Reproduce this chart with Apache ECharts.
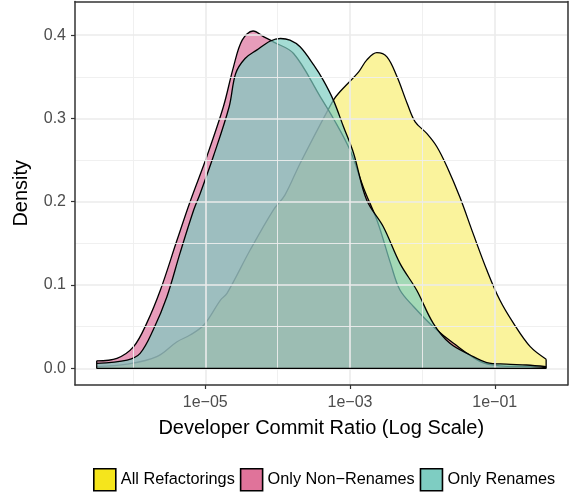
<!DOCTYPE html>
<html>
<head>
<meta charset="utf-8">
<script src="https://cdn.jsdelivr.net/npm/echarts@6/dist/echarts.min.js"></script>
<style>
html,body{margin:0;padding:0;background:#fff;}
#chart{width:571px;height:492px;}
</style>
</head>
<body>
<div id="chart"></div>
<script>
// log10(Developer Commit Ratio) and density values
const allX = [-6.50,-6.08,-5.67,-5.39,-5.21,-5.02,-4.79,-4.70,-4.38,-4.06,-3.90,-3.69,-3.23,-3.14,-2.88,-2.77,-2.63,-2.49,-2.35,-2.21,-2.10,-1.94,-1.80,-1.66,-1.48,-1.30,-1.11,-0.93,-0.74,-0.51,-0.29];
const allY = [0.002,0.005,0.014,0.032,0.040,0.052,0.082,0.090,0.142,0.190,0.208,0.246,0.322,0.332,0.356,0.370,0.379,0.374,0.350,0.318,0.296,0.282,0.266,0.242,0.205,0.162,0.118,0.082,0.054,0.026,0.011];

const nonRenX = [-6.50,-6.22,-5.99,-5.81,-5.62,-5.39,-5.21,-4.98,-4.75,-4.61,-4.49,-4.34,-4.19,-4.06,-3.78,-3.41,-3.23,-3.00,-2.81,-2.62,-2.44,-2.31,-2.12,-1.85,-1.57,-1.20,-0.93,-0.51,-0.29];
const nonRenY = [0.009,0.012,0.026,0.054,0.094,0.154,0.200,0.254,0.314,0.362,0.394,0.405,0.398,0.392,0.378,0.326,0.300,0.262,0.216,0.176,0.126,0.094,0.074,0.050,0.030,0.008,0.003,0.002,0.001];

const renX = [-6.50,-6.08,-5.90,-5.72,-5.53,-5.35,-5.16,-5.07,-4.89,-4.67,-4.58,-4.45,-4.29,-4.10,-3.96,-3.83,-3.69,-3.50,-3.37,-3.23,-3.09,-2.95,-2.77,-2.54,-2.31,-2.08,-1.85,-1.62,-1.34,-1.11,-0.84,-0.56,-0.29];
const renY = [0.006,0.010,0.018,0.046,0.086,0.138,0.190,0.210,0.254,0.314,0.354,0.372,0.382,0.393,0.396,0.394,0.386,0.364,0.346,0.322,0.290,0.258,0.202,0.170,0.126,0.094,0.054,0.030,0.016,0.007,0.005,0.004,0.002];

const seriesNames = ['All Refactorings','Only Non\u2212Renames','Only Renames'];
const legendColors = ['#F5E51C','#E0739A','#7ECDC2'];
const fillColors = ['rgba(245,229,35,0.45)','rgba(215,90,140,0.60)','rgba(126,205,194,0.70)'];

const xTickValues = [-5,-3,-1];
const xTickLabels = ['1e\u221205','1e\u221203','1e\u221201'];
const xMinorGrid = [-6,-4,-2,0];
const yTickValues = [0,0.1,0.2,0.3,0.4];
const yMinorGrid = [0.05,0.15,0.25,0.35];

const dataRange = [-6.50,-0.29];
const X_MIN = -6.8, X_MAX = 0.005, Y_MIN = -0.02, Y_MAX = 0.4404;

function pairs(xs, ys){ return xs.map((x,i)=>[x, ys[i]]); }

const chart = echarts.init(document.getElementById('chart'), null, {renderer:'canvas'});

const gridLines = [];
xTickValues.forEach(v=>gridLines.push({xAxis:v, lineStyle:{color:'#EBEBEB', width:1.6, type:'solid'}}));
xMinorGrid.forEach(v=>gridLines.push({xAxis:v, lineStyle:{color:'#EEEEEE', width:0.9, type:'solid'}}));
yTickValues.forEach(v=>gridLines.push({yAxis:v, lineStyle:{color:'#EBEBEB', width:1.6, type:'solid'}}));
yMinorGrid.forEach(v=>gridLines.push({yAxis:v, lineStyle:{color:'#EEEEEE', width:0.9, type:'solid'}}));

const datasets = [pairs(allX, allY), pairs(nonRenX, nonRenY), pairs(renX, renY)];

const series = [{
  type:'line', name:'_grid', data:[[X_MIN,Y_MIN]], showSymbol:false, silent:true, z:0,
  lineStyle:{width:0},
  markLine:{silent:true, symbol:['none','none'], label:{show:false}, animation:false,
    lineStyle:{type:'solid'}, emphasis:{disabled:true}, data:gridLines}
}];
datasets.forEach((d,i)=>{
  series.push({
    type:'line', name:seriesNames[i], data:d, smooth:0.35, showSymbol:false, symbol:'none',
    z:2+i, lineStyle:{color:'#000', width:1.3}, itemStyle:{color:legendColors[i]},
    areaStyle:{color:fillColors[i], opacity:1, origin:0}, animation:false
  });
});
series.push({
  type:'line', name:'_base', z:10, showSymbol:false, symbol:'none', animation:false,
  data:[[dataRange[0], nonRenY[0]],[dataRange[0],0],[dataRange[1],0],[dataRange[1], allY[allY.length-1]]],
  lineStyle:{color:'#000', width:1.3}
});

const borderLine = {show:true, onZero:false, lineStyle:{color:'#333333', width:1.5}};
const font = '"Liberation Sans", Arial, sans-serif';

chart.setOption({
  animation:false,
  backgroundColor:'#fff',
  textStyle:{fontFamily:font},
  grid:{left:75, right:3.5, top:1.5, bottom:107},
  xAxis:[{
    type:'value', min:X_MIN, max:X_MAX, position:'bottom', z:20,
    name:'Developer Commit Ratio (Log Scale)', nameLocation:'middle', nameGap:33,
    nameTextStyle:{fontSize:20, color:'#000', fontFamily:font},
    axisLine:borderLine, splitLine:{show:false},
    axisTick:{show:true, length:4, customValues:xTickValues, lineStyle:{color:'#333', width:1.2}},
    axisLabel:{customValues:xTickValues, margin:10, fontSize:16, color:'#4D4D4D',
      formatter:v=>{const k=xTickValues.findIndex(t=>Math.abs(t-v)<1e-6); return k>=0?xTickLabels[k]:'';}}
  },{
    type:'value', min:X_MIN, max:X_MAX, position:'top', z:20,
    axisLine:borderLine, axisTick:{show:false}, axisLabel:{show:false}, splitLine:{show:false}
  }],
  yAxis:[{
    type:'value', min:Y_MIN, max:Y_MAX, position:'left', z:20,
    name:'Density', nameLocation:'middle', nameGap:44,
    nameTextStyle:{fontSize:20, color:'#000', fontFamily:font},
    axisLine:borderLine, splitLine:{show:false},
    axisTick:{show:true, length:4, customValues:yTickValues, lineStyle:{color:'#333', width:1.2}},
    axisLabel:{customValues:yTickValues, margin:9, fontSize:16, color:'#4D4D4D', formatter:v=>v.toFixed(1)}
  },{
    type:'value', min:Y_MIN, max:Y_MAX, position:'right', z:20,
    axisLine:borderLine, axisTick:{show:false}, axisLabel:{show:false}, splitLine:{show:false}
  }],
  legend:{
    left:93, top:468, padding:0, orient:'horizontal', itemWidth:22, itemHeight:22, itemGap:5,
    textStyle:{fontSize:16.3, color:'#000', fontFamily:font},
    data:seriesNames.map((n,i)=>({name:n, icon:'rect', itemStyle:{color:legendColors[i], borderColor:'#000', borderWidth:1.6}}))
  },
  series:series
});
</script>
</body>
</html>
